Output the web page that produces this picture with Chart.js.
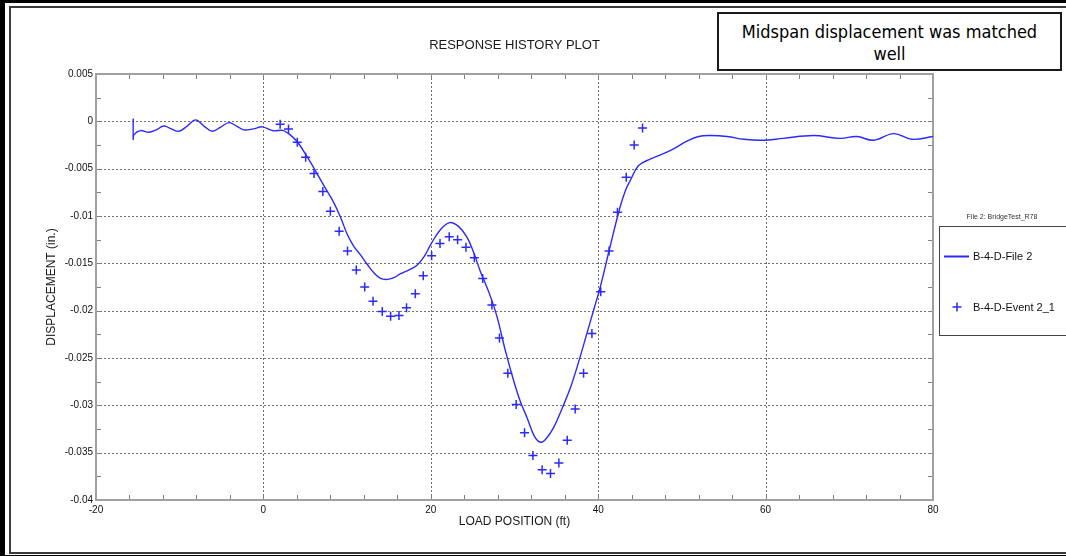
<!DOCTYPE html>
<html>
<head>
<meta charset="utf-8">
<title>Response History Plot</title>
<script src="https://cdn.jsdelivr.net/npm/chart.js@4/dist/chart.umd.min.js"></script>
<style>
  html, body { margin: 0; padding: 0; background: #000; }
  body { width: 1066px; height: 556px; position: relative; overflow: hidden; }
  #panel { position: absolute; left: 5px; top: 3px; right: 0; height: 552px; background: #fff; }
  #inner { position: absolute; left: 4px; top: 3px; right: -4px; height: 544px;
           border-left: 2px solid #3a3a3a; border-top: 2px solid #3a3a3a; border-bottom: 2px solid #3a3a3a; }
  #chart { position: absolute; left: 0; top: 0; }
  #note { position: absolute; left: 717px; top: 12px; width: 341px; height: 48px;
          border: 2px solid #1a1a1a; background: #fff; text-align: center;
          font-family: "DejaVu Sans Condensed", "Liberation Sans", sans-serif; font-size: 18px;
          line-height: 22px; padding-top: 7px; box-sizing: content-box; color: #000; }
</style>
</head>
<body>
<div id="panel"><div id="inner"></div></div>
<canvas id="chart" width="1066" height="556"></canvas>
<div id="note">Midspan displacement was matched<br>well</div>
<script>
// Analytical response: midspan displacement vs load position
const fileLineX = [-15.55, -15.55, -15.45, -14.7, -13.7, -12.8, -11.9, -11.0, -10.1, -9.1, -8.1, -7.1, -6.1, -5.1, -4.1, -3.2, -2.35, -1.2, -0.15,
  1.2, 2.3, 3.0, 4.0, 5.2, 6.2, 7.3, 8.3, 9.2, 10.0, 10.8, 11.6, 12.4, 13.2, 14.0, 14.8, 15.6, 16.4, 17.4, 18.35, 19.2, 20.0,
  21.1, 22.25, 23.3, 24.3, 25.1, 25.9, 27.0, 27.9, 28.9, 29.9, 30.7, 31.5, 32.4, 33.15, 33.8, 34.7, 35.7, 36.7, 37.7, 38.65,
  39.5, 40.25, 41.4, 42.6, 43.3, 43.8, 44.8, 46.2, 48.6, 50.6, 52.0, 53.4, 55.4, 57.4, 59.7, 62.1, 65.7, 68.9, 70.9, 72.9,
  75.3, 77.5, 80.0];
const fileLineY = [0.0003, -0.0019, -0.0014, -0.00098, -0.00116, -0.0009, -0.0005, -0.0008, -0.00105, -0.0005, 0.00015, -0.0005, -0.00105, -0.0006, -0.00014, -0.0005, -0.0009, -0.0008, -0.00058,
  -0.001, -0.00095, -0.0013, -0.0021, -0.0037, -0.0052, -0.0069, -0.0084, -0.0101, -0.0119, -0.0132, -0.0141, -0.0151, -0.0160, -0.0166, -0.0167, -0.0165, -0.0161, -0.0157, -0.0152, -0.0143, -0.0130,
  -0.0115, -0.0107, -0.0111, -0.0122, -0.0138, -0.0158, -0.0182, -0.0206, -0.0242, -0.0274, -0.0296, -0.0313, -0.0333, -0.0339, -0.0335, -0.0323, -0.0303, -0.0281, -0.0253, -0.0224,
  -0.0198, -0.0175, -0.0133, -0.0091, -0.0072, -0.0063, -0.0047, -0.0040, -0.0031, -0.0021, -0.0016, -0.0015, -0.0016, -0.0019, -0.0020, -0.0018, -0.0015, -0.0018, -0.0016, -0.0020,
  -0.0013, -0.0019, -0.0016];

// Measured event: one reading per load position
const eventX = [2.0, 3.0, 4.05, 5.05, 6.05, 7.1, 8.0, 9.05, 10.05, 11.1, 12.1, 13.1, 14.2, 15.2, 16.2, 17.1, 18.15, 19.1, 20.1, 21.1, 22.2, 23.2,
  24.2, 25.2, 26.2, 27.3, 28.2, 29.2, 30.2, 31.2, 32.2, 33.3, 34.3, 35.3, 36.3, 37.25, 38.25, 39.25, 40.3, 41.3, 42.3, 43.35, 44.3, 45.3];
const eventY = [-0.0003, -0.0008, -0.0022, -0.0038, -0.0055, -0.0074, -0.0095, -0.0116, -0.0137, -0.0157, -0.0175, -0.0190, -0.0201, -0.0206, -0.0205, -0.0197, -0.0182, -0.0163, -0.0142, -0.0129, -0.0122, -0.0125,
  -0.0133, -0.0144, -0.0166, -0.0194, -0.0229, -0.0266, -0.0299, -0.0329, -0.0353, -0.0368, -0.0372, -0.0361, -0.0337, -0.0304, -0.0266, -0.0224, -0.0180, -0.0137, -0.0096, -0.0059, -0.0025, -0.0007];

// Axis ranges and tick spacing
const xRange = [-20, 80];
const yRange = [-0.04, 0.005];
const xMajorStep = 20, xMinorStep = 4;
const yMajorStep = 0.005, yMinorStep = 0.0025;

const seriesNames = ['B-4-D-File 2', 'B-4-D-Event 2_1'];
const legendTitle = 'File 2: BridgeTest_R78';
const plotTitle = 'RESPONSE HISTORY PLOT';
const xTitle = 'LOAD POSITION (ft)';
const yTitle = 'DISPLACEMENT (in.)';

const BLUE = '#2a2aff';
const FONT = '"Liberation Sans", Arial, sans-serif';

const toPoints = (xs, ys) => xs.map((x, i) => ({ x, y: ys[i] }));
const stepValues = (lo, hi, step) => {
  const out = [];
  const n = Math.round((hi - lo) / step);
  for (let i = 0; i <= n; i++) out.push(+(lo + i * step).toFixed(6));
  return out;
};

// Frame, dotted grid and inward ticks on all four sides
const framePlugin = {
  id: 'frame',
  beforeDatasetsDraw(chart) {
    const { ctx, chartArea: a, scales: { x, y } } = chart;
    ctx.save();
    ctx.lineWidth = 1;
    ctx.strokeStyle = '#707070';
    ctx.setLineDash([2, 2]);
    stepValues(xRange[0], xRange[1], xMajorStep).slice(1, -1).forEach(v => {
      const px = Math.round(x.getPixelForValue(v)) + 0.5;
      ctx.beginPath(); ctx.moveTo(px, a.top); ctx.lineTo(px, a.bottom); ctx.stroke();
    });
    stepValues(yRange[0], yRange[1], yMajorStep).slice(1, -1).forEach(v => {
      const py = Math.round(y.getPixelForValue(v)) + 0.5;
      ctx.beginPath(); ctx.moveTo(a.left, py); ctx.lineTo(a.right, py); ctx.stroke();
    });
    ctx.setLineDash([]);
    ctx.strokeStyle = '#808080';
    const tl = 5;
    stepValues(xRange[0], xRange[1], xMinorStep).forEach(v => {
      const px = Math.round(x.getPixelForValue(v)) + 0.5;
      ctx.beginPath();
      ctx.moveTo(px, a.bottom); ctx.lineTo(px, a.bottom - tl);
      ctx.moveTo(px, a.top); ctx.lineTo(px, a.top + tl);
      ctx.stroke();
    });
    stepValues(yRange[0], yRange[1], yMinorStep).forEach(v => {
      const py = Math.round(y.getPixelForValue(v)) + 0.5;
      ctx.beginPath();
      ctx.moveTo(a.left, py); ctx.lineTo(a.left + tl, py);
      ctx.moveTo(a.right, py); ctx.lineTo(a.right - tl, py);
      ctx.stroke();
    });
    ctx.strokeStyle = '#a0a0a0';
    ctx.lineWidth = 2;
    ctx.strokeRect(a.left, a.top, a.right - a.left, a.bottom - a.top);
    ctx.restore();
  },
  afterDraw(chart) {
    const { ctx, chartArea: a } = chart;
    ctx.save();
    ctx.fillStyle = '#1a1a1a';
    ctx.textAlign = 'center';
    ctx.textBaseline = 'middle';
    ctx.font = '13px ' + FONT;
    ctx.fillText(plotTitle, (a.left + a.right) / 2, 45);
    ctx.font = '12px ' + FONT;
    ctx.fillText(xTitle, (a.left + a.right) / 2, 522);
    ctx.save();
    ctx.translate(52, (a.top + a.bottom) / 2);
    ctx.rotate(-Math.PI / 2);
    ctx.fillText(yTitle, 0, 0);
    ctx.restore();

    // legend
    const ds = chart.data.datasets;
    ctx.font = '7px ' + FONT;
    ctx.fillStyle = '#333';
    ctx.fillText(legendTitle, 1002, 217);
    ctx.strokeStyle = '#444';
    ctx.lineWidth = 1;
    ctx.strokeRect(939.5, 226.5, 140, 109);
    ctx.strokeStyle = ds[0].borderColor;
    ctx.lineWidth = 2;
    ctx.beginPath(); ctx.moveTo(944, 256.5); ctx.lineTo(969, 256.5); ctx.stroke();
    ctx.strokeStyle = ds[1].borderColor;
    ctx.lineWidth = 1.5;
    ctx.beginPath();
    ctx.moveTo(952.5, 307); ctx.lineTo(961.5, 307);
    ctx.moveTo(957, 302.5); ctx.lineTo(957, 311.5);
    ctx.stroke();
    ctx.fillStyle = '#111';
    ctx.textAlign = 'left';
    ctx.font = '11px ' + FONT;
    ctx.fillText(ds[0].label, 973, 257);
    ctx.fillText(ds[1].label, 973, 308);
    ctx.restore();
  }
};

new Chart(document.getElementById('chart'), {
  type: 'scatter',
  data: {
    datasets: [
      {
        label: seriesNames[0],
        data: toPoints(fileLineX, fileLineY),
        showLine: true,
        borderColor: BLUE,
        borderWidth: 1.4,
        tension: 0.4,
        pointRadius: 0,
        fill: false
      },
      {
        label: seriesNames[1],
        data: toPoints(eventX, eventY),
        showLine: false,
        pointStyle: 'cross',
        pointRadius: 4.5,
        pointBorderWidth: 1.5,
        borderColor: BLUE,
        backgroundColor: BLUE
      }
    ]
  },
  options: {
    responsive: false,
    animation: false,
    layout: { padding: { left: 46, right: 133, top: 74, bottom: 36 } },
    plugins: { legend: { display: false }, tooltip: { enabled: false }, title: { display: false } },
    scales: {
      x: {
        type: 'linear',
        min: xRange[0], max: xRange[1],
        grid: { display: false, drawTicks: false }, border: { display: false },
        ticks: { stepSize: xMajorStep, color: '#111', font: { family: FONT, size: 10 }, padding: 4, maxRotation: 0 },
        afterFit(s) { s.height = 20; }
      },
      y: {
        type: 'linear',
        min: yRange[0], max: yRange[1],
        grid: { display: false, drawTicks: false }, border: { display: false },
        ticks: {
          stepSize: yMajorStep, color: '#111', font: { family: FONT, size: 10 }, padding: 3,
          callback: v => String(Number(Number(v).toFixed(4)))
        },
        afterFit(s) { s.width = 50; }
      }
    }
  },
  plugins: [framePlugin]
});
</script>
</body>
</html>
